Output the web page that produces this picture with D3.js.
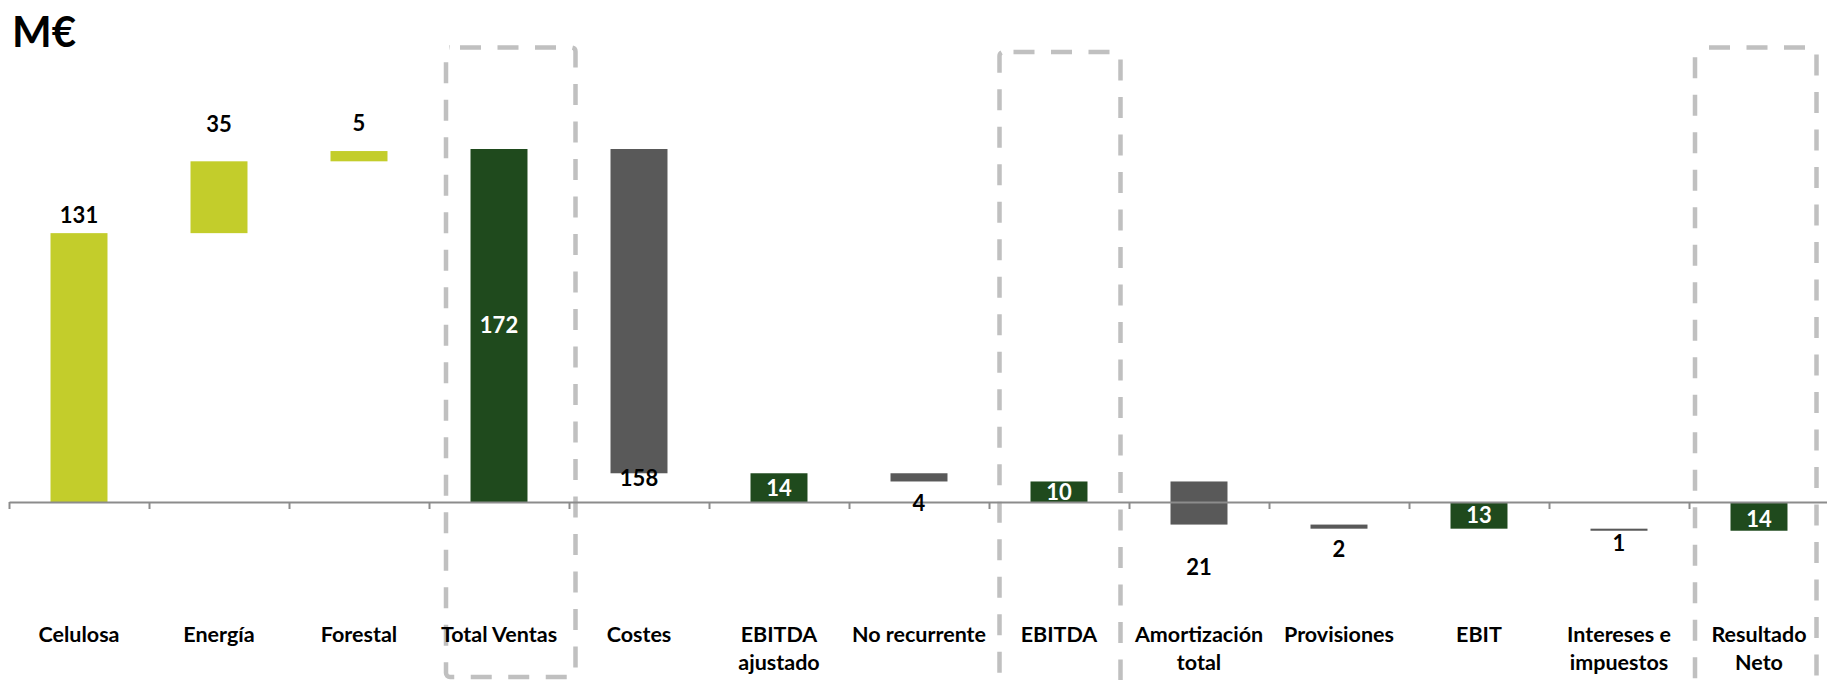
<!DOCTYPE html>
<html>
<head>
<meta charset="utf-8">
<script src="https://cdn.jsdelivr.net/npm/d3@7"></script>
<style>
  html, body { margin: 0; padding: 0; background: #ffffff; }
  svg { display: block; }
  text { font-family: Lato, "Open Sans", sans-serif; font-weight: 700; }
</style>
</head>
<body>
<svg id="chart" width="1827" height="680"></svg>
<script>
// ---- data -------------------------------------------------------------
const categories = [
  "Celulosa", "Energía", "Forestal", "Total Ventas", "Costes",
  "EBITDA ajustado", "No recurrente", "EBITDA", "Amortización total",
  "Provisiones", "EBIT", "Intereses e impuestos", "Resultado Neto"
];
// how each category name wraps under the axis
const categoryLines = [
  ["Celulosa"], ["Energía"], ["Forestal"], ["Total Ventas"], ["Costes"],
  ["EBITDA", "ajustado"], ["No recurrente"], ["EBITDA"], ["Amortización", "total"],
  ["Provisiones"], ["EBIT"], ["Intereses e", "impuestos"], ["Resultado", "Neto"]
];
// M€, signed: positive adds, negative subtracts
const values = [131, 35, 5, 172, -158, 14, -4, 10, -21, -2, -13, -1, -14];
// "step" bars float on the running total, "total" bars stand on zero
const kinds = ["step", "step", "step", "total", "step", "total", "step", "total",
               "step", "step", "total", "step", "total"];
const segments = ["income", "income", "income", "total", "cost", "total", "cost", "total",
                  "cost", "cost", "total", "cost", "total"];
const highlighted = ["Total Ventas", "EBITDA", "Resultado Neto"];

// ---- presentation ------------------------------------------------------
const W = 1827, H = 680;
const colors = { income: "#C3CD2B", total: "#1F4A1D", cost: "#595959" };
const labelPlacement = ["above", "above", "above", "inside", "below", "inside", "below",
                        "inside", "below", "below", "inside", "below", "inside"];
// distance (px) of the label centre from the bar end it refers to
const labelOffset = [18, 37, 28, 0, 5, 0, 22, 0, 43, 20, 0, 12, 3];
// dashed frames around the key results: horizontal extent relative to band centre
const frameLayout = {
  "Total Ventas":   { left: -53, right: 76.5, top: 47.5, bottom: 677 },
  "EBITDA":         { left: -59.5, right: 61.5, top: 52, bottom: 720 },
  "Resultado Neto": { left: -64, right: 57.5, top: 47.5, bottom: 720 }
};

const svg = d3.select("#chart");

// ---- waterfall geometry -----------------------------------------------
let running = 0;
const bars = categories.map((c, i) => {
  let start, end;
  if (kinds[i] === "total") { start = 0; end = values[i]; }
  else { start = running; end = running + values[i]; }
  running = end;
  return { cat: c, i, value: values[i], start, end, seg: segments[i] };
});

// ---- scales ------------------------------------------------------------
const x = d3.scaleBand()
  .domain(categories)
  .range([9, 1829])
  .paddingInner(0.593)
  .paddingOuter(0.2965);

const y = d3.scaleLinear().domain([0, 172]).range([502, 149]);

const edge = d3.scaleLinear().domain([0, categories.length]).range(x.range());

// ---- title ---------------------------------------------------------------
svg.append("text")
  .attr("x", 12).attr("y", 47)
  .attr("font-size", 42)
  .attr("fill", "#000")
  .text("M€");

// ---- dashed frames ------------------------------------------------------
const frames = svg.append("g").attr("class", "frames");
highlighted.forEach(c => {
  const f = frameLayout[c];
  const cx = x(c) + x.bandwidth() / 2;
  frames.append("rect")
    .attr("x", cx + f.left).attr("y", f.top)
    .attr("width", f.right - f.left).attr("height", f.bottom - f.top)
    .attr("rx", 4).attr("ry", 4)
    .attr("fill", "none")
    .attr("stroke", "#C0C0C0")
    .attr("stroke-width", 4.5)
    .attr("stroke-dasharray", "21 16.5")
    .attr("stroke-dashoffset", -10);
});

// ---- bars ----------------------------------------------------------------
svg.append("g").attr("class", "bars")
  .selectAll("rect")
  .data(bars)
  .join("rect")
  .attr("x", d => x(d.cat))
  .attr("width", x.bandwidth())
  .attr("y", d => y(Math.max(d.start, d.end)))
  .attr("height", d => Math.abs(y(d.start) - y(d.end)))
  .attr("fill", d => colors[d.seg]);

// ---- axis ----------------------------------------------------------------
const axis = svg.append("g")
  .attr("class", "axis")
  .attr("transform", `translate(0,${y(0)})`)
  .call(d3.axisBottom(edge)
    .tickValues(d3.range(0, categories.length + 1))
    .tickSizeInner(7)
    .tickSizeOuter(0)
    .tickFormat(""));
axis.select(".domain").attr("stroke", "#8C8C8C").attr("stroke-width", 2);
axis.selectAll(".tick line").attr("stroke", "#8C8C8C").attr("stroke-width", 2);

// ---- category labels -------------------------------------------------------
const catLabels = svg.append("g").attr("class", "categories");
categories.forEach((c, i) => {
  const t = catLabels.append("text")
    .attr("x", x(c) + x.bandwidth() / 2)
    .attr("y", 642)
    .attr("text-anchor", "middle")
    .attr("font-size", 21.5)
    .attr("fill", "#000");
  categoryLines[i].forEach((line, k) => {
    t.append("tspan")
      .attr("x", x(c) + x.bandwidth() / 2)
      .attr("y", 642 + k * 28)
      .text(line);
  });
});

// ---- value labels ----------------------------------------------------------
svg.append("g").attr("class", "values")
  .selectAll("text")
  .data(bars)
  .join("text")
  .attr("x", d => x(d.cat) + x.bandwidth() / 2)
  .attr("y", d => {
    const top = y(Math.max(d.start, d.end));
    const bottom = y(Math.min(d.start, d.end));
    const p = labelPlacement[d.i];
    if (p === "above") return top - labelOffset[d.i];
    if (p === "below") return bottom + labelOffset[d.i];
    return (top + bottom) / 2 + labelOffset[d.i];
  })
  .attr("dy", "0.36em")
  .attr("text-anchor", "middle")
  .attr("font-size", 22)
  .attr("fill", d => labelPlacement[d.i] === "inside" ? "#ffffff" : "#000000")
  .text(d => d3.format("d")(Math.abs(d.value)));
</script>
</body>
</html>
